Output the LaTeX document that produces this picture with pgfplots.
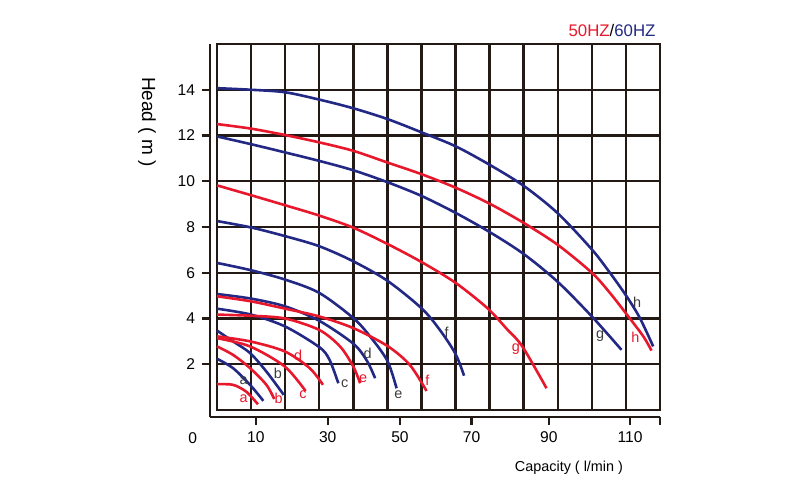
\documentclass[border=0pt]{standalone}
\usepackage{pgfplots}
\pgfplotsset{compat=1.18}
\usepackage{fontspec}
\setmainfont{Liberation Sans}

\definecolor{pumpred}{RGB}{232,24,44}
\definecolor{pumpblue}{RGB}{34,40,132}
\definecolor{gridk}{RGB}{35,26,22}
\definecolor{lblgray}{RGB}{60,60,60}

\begin{document}
\begin{tikzpicture}[x=1pt,y=1pt]
\useasboundingbox (0,0) rectangle (400,250);

% outer L-shaped axis carrying the ticks
\begin{axis}[
  at={(105pt,41.5pt)}, anchor=south west,
  width=225pt, height=186.5pt, scale only axis,
  xmin=-0.2054, xmax=13, ymin=-0.306, ymax=16,
  axis x line*=bottom, axis y line*=left,
  axis line style={-, line width=1.2pt, gridk},
  xtick={1.14,3.25,5.37,7.47,9.74,12.12,13},
  xticklabels={10,30,50,70,90,110,{}},
  ytick={2,4,...,14},
  tick style={line width=1.1pt, gridk},
  tick align=outside, major tick length=4pt,
  ticklabel style={font=\fontsize{7.8}{9}\selectfont},
  /pgf/number format/assume math mode=true,
  clip=false,
]
\node[font=\fontsize{7.8}{9}\selectfont] at (axis cs:-0.713,-1.228) {0};
\end{axis}

% grid box with the curves
\begin{axis}[
  at={(108.5pt,45pt)}, anchor=south west,
  width=221.5pt, height=183pt, scale only axis,
  xmin=0, xmax=13, ymin=0, ymax=16,
  xtick={0,...,13}, ytick={0,2,...,16},
  xticklabel=\empty, yticklabel=\empty, major tick length=0pt,
  grid=major, grid style={line width=1.2pt, gridk},
  axis line style={line width=1.2pt, gridk},
  clip=false,
  every axis plot/.append style={line width=1.3pt, smooth, no markers},
]
% 60 Hz
\addplot[pumpblue] coordinates {(0,14.07)(1,14.0)(2,13.89)(3,13.57)(4,13.19)(5,12.72)(6,12.14)(7,11.53)(8,10.72)(9,9.8)(10,8.6)(11,7.02)(11.53,6.0)(12.02,4.97)(12.41,4.02)(12.8,2.78)};
\addplot[pumpblue] coordinates {(0,11.96)(1,11.62)(2,11.26)(3,10.89)(4,10.48)(5,9.96)(6,9.36)(7,8.62)(8,7.78)(9,6.82)(10,5.6)(11,4.09)(11.87,2.63)};
\addplot[pumpblue] coordinates {(0,8.26)(1,7.98)(2,7.6)(3,7.16)(4,6.5)(5,5.65)(6,4.45)(6.54,3.5)(7,2.45)(7.25,1.5)};
\addplot[pumpblue] coordinates {(0,6.43)(1,6.11)(2,5.7)(3,5.12)(4,4.02)(4.5,3.2)(5,2.15)(5.27,0.95)};
\addplot[pumpblue] coordinates {(0,5.07)(1,4.87)(2,4.53)(3,3.9)(4,2.9)(4.4,2.15)(4.64,1.39)};
\addplot[pumpblue] coordinates {(0,4.43)(1,4.17)(2,3.65)(3,2.75)(3.3,2.2)(3.56,1.17)};
\addplot[pumpblue] coordinates {(0,3.47)(0.47,3.0)(0.97,2.49)(1.45,1.68)(1.96,0.66)};
\addplot[pumpblue] coordinates {(0,2.24)(0.47,1.83)(0.97,1.1)(1.36,0.4)};
% 50 Hz
\addplot[pumpred] coordinates {(0,12.5)(1,12.3)(2,12.02)(3,11.7)(4,11.33)(5,10.82)(6,10.31)(7,9.72)(8,9.02)(9,8.18)(10,7.22)(11,6.0)(11.53,5.12)(12.07,4.09)(12.51,3.22)(12.75,2.6)};
\addplot[pumpred] coordinates {(0,9.82)(1,9.39)(2,8.95)(3,8.5)(4,7.97)(5,7.26)(6,6.47)(7,5.56)(7.93,4.46)(8.5,3.55)(8.96,2.78)(9.67,0.95)};
\addplot[pumpred] coordinates {(0,4.97)(1,4.75)(2,4.43)(3,4.09)(4,3.58)(5,2.8)(5.66,1.97)(6.15,0.83)};
\addplot[pumpred] coordinates {(0,4.17)(1,4.12)(2,4.0)(3,3.5)(3.61,2.78)(4.0,1.9)(4.2,1.17)};
\addplot[pumpred] coordinates {(0,3.22)(0.97,3.0)(1.99,2.56)(2.72,1.83)(3.11,1.1)};
\addplot[pumpred] coordinates {(0,3.14)(0.97,2.78)(1.99,1.9)(2.6,0.83)};
\addplot[pumpred] coordinates {(0,2.78)(0.47,2.41)(0.97,1.83)(1.45,1.1)(1.68,0.48)};
\addplot[pumpred] coordinates {(0,1.13)(0.47,1.1)(0.86,0.8)(1.2,0.25)};

% curve letters
\begin{scope}[every node/.style={font=\fontsize{7.2}{8}\selectfont, inner sep=0pt}]
\node[lblgray] at (axis cs:0.78,1.29) {a};
\node[lblgray] at (axis cs:1.79,1.62) {b};
\node[lblgray] at (axis cs:3.75,1.14) {c};
\node[lblgray] at (axis cs:4.42,2.46) {d};
\node[lblgray] at (axis cs:5.32,0.68) {e};
\node[lblgray] at (axis cs:6.74,3.40) {f};
\node[lblgray] at (axis cs:11.24,3.25) {g};
\node[lblgray] at (axis cs:12.33,4.71) {h};
\node[pumpred] at (axis cs:0.78,0.51) {a};
\node[pumpred] at (axis cs:1.81,0.53) {b};
\node[pumpred] at (axis cs:2.52,0.69) {c};
\node[pumpred] at (axis cs:2.38,2.39) {d};
\node[pumpred] at (axis cs:4.29,1.39) {e};
\node[pumpred] at (axis cs:6.17,1.32) {f};
\node[pumpred] at (axis cs:8.77,2.65) {g};
\node[pumpred] at (axis cs:12.28,3.19) {h};
\end{scope}
\end{axis}

\node[rotate=-90, font=\fontsize{9.5}{11}\selectfont] at (73.5,189) {Head ( m )};
\node[font=\fontsize{7.2}{9}\selectfont] at (284.5,16) {Capacity ( l/min )};
\node[font=\fontsize{8.4}{10}\selectfont] at (306,235)
  {\textcolor{pumpred}{50HZ}/\textcolor{pumpblue}{60HZ}};
\end{tikzpicture}
\end{document}
